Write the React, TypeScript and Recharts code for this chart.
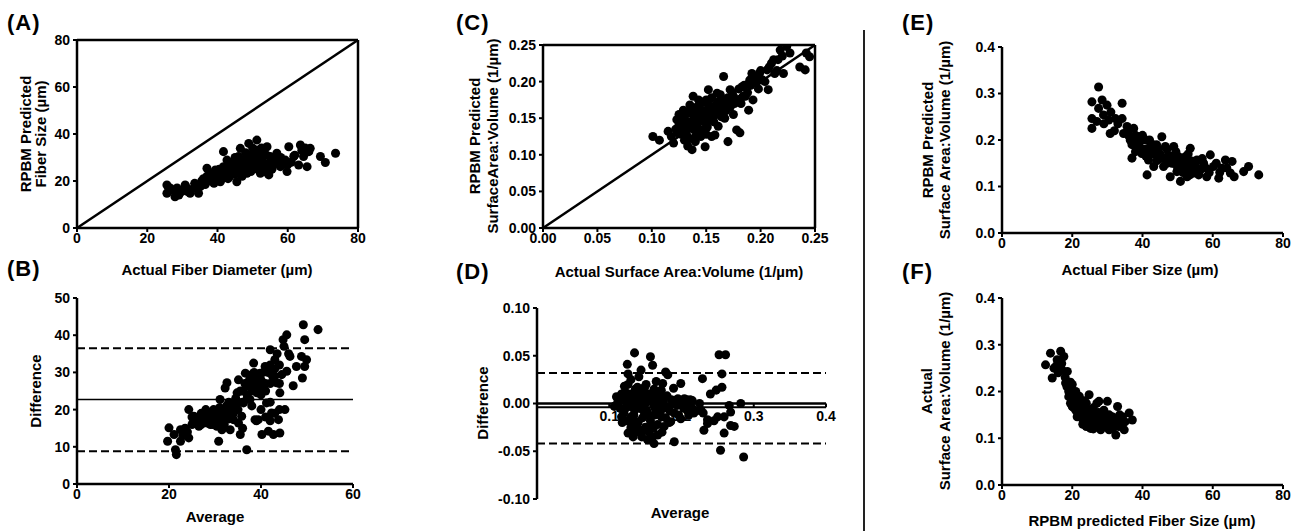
import { ReferenceLine, Scatter, ScatterChart, XAxis, YAxis, ZAxis } from "recharts";

const INK = "#000";
const FONT = "'Liberation Sans', Arial, Helvetica, sans-serif";

// (A) actual fiber diameter vs RPBM predicted fiber size, µm
const fiberSizeFit: [number, number][] = [
  [25.6, 18.3], [25.6, 14.8], [26.0, 15.5], [26.5, 17.0], [27.5, 16.2], [27.9, 13.3], [28.5, 17.0], [29.0, 14.0],
  [29.8, 15.5], [30.0, 16.0], [30.8, 18.3], [31.0, 17.5], [31.5, 15.5], [32.2, 14.8], [33.2, 16.9], [33.5, 19.0],
  [34.5, 18.0], [34.6, 14.8], [35.1, 17.6], [35.5, 20.0], [36.0, 19.7], [36.0, 21.0], [36.5, 18.5], [37.0, 25.4],
  [37.0, 22.0], [37.5, 20.4], [38.0, 20.0], [38.0, 22.0], [38.5, 23.0], [38.9, 21.8], [39.0, 19.0], [39.4, 24.7],
  [39.5, 21.0], [40.0, 22.5], [40.0, 24.0], [40.3, 23.3], [40.5, 25.0], [40.8, 19.7], [41.0, 20.5], [41.5, 23.0],
  [41.7, 32.5], [41.7, 26.1], [42.0, 21.5], [42.0, 25.0], [42.5, 24.0], [42.7, 28.9], [43.0, 26.0], [43.0, 21.0],
  [43.5, 22.0], [43.6, 23.3], [44.0, 25.0], [44.0, 27.0], [44.5, 28.0], [44.6, 24.7], [45.0, 23.0], [45.0, 30.0],
  [45.1, 27.5], [45.5, 19.7], [45.5, 26.0], [46.0, 30.4], [46.0, 24.0], [46.0, 26.0], [46.5, 33.9], [46.5, 28.0],
  [47.0, 22.0], [47.0, 24.0], [47.4, 26.1], [47.5, 29.0], [48.0, 25.0], [48.0, 29.0], [48.0, 32.0], [48.4, 23.3],
  [48.5, 27.0], [48.9, 36.0], [49.0, 31.0], [49.3, 30.4], [49.5, 24.0], [50.0, 29.0], [50.0, 27.0], [50.0, 34.0],
  [50.3, 26.1], [50.5, 32.0], [51.0, 27.0], [51.2, 37.4], [51.2, 33.2], [51.5, 25.0], [51.7, 28.9], [52.0, 30.0],
  [52.0, 28.0], [52.2, 23.3], [52.5, 34.0], [53.0, 28.0], [53.0, 32.0], [53.1, 26.1], [53.5, 24.0], [54.0, 31.0],
  [54.0, 26.0], [54.1, 34.6], [54.6, 22.6], [55.0, 30.4], [55.0, 28.0], [55.5, 25.0], [56.0, 27.5], [56.0, 30.0],
  [56.5, 29.0], [56.9, 31.8], [57.5, 29.0], [57.9, 26.1], [58.0, 30.0], [58.5, 27.0], [59.3, 28.9], [59.8, 24.0],
  [60.0, 27.0], [60.3, 34.6], [61.0, 28.0], [61.7, 30.4], [62.0, 31.0], [63.1, 26.8], [63.6, 35.3], [64.0, 33.0],
  [64.5, 30.4], [65.0, 34.0], [65.5, 26.1], [66.0, 32.5], [66.4, 33.9], [69.3, 30.4], [70.7, 27.9], [73.6, 31.8],
];

// (B) Bland-Altman for fiber size: average, difference
const fiberSizeAgreement: [number, number][] = [
  [20.0, 15.1], [19.7, 11.5], [21.4, 9.2], [21.6, 7.9], [21.1, 13.3], [22.5, 14.6], [22.5, 11.5], [23.0, 13.0],
  [23.5, 15.0], [24.0, 14.0], [24.3, 12.4], [24.3, 20.0], [25.0, 16.0], [25.0, 18.0], [25.4, 18.2], [26.1, 16.4],
  [26.5, 15.5], [26.8, 17.7], [27.0, 16.0], [27.0, 19.0], [27.5, 18.0], [27.6, 19.1], [28.0, 17.5], [28.0, 20.0],
  [28.3, 16.4], [28.5, 19.0], [28.5, 17.0], [29.0, 18.2], [29.0, 16.0], [29.5, 18.5], [29.5, 16.0], [29.7, 20.0],
  [30.0, 17.0], [30.0, 19.0], [30.1, 16.4], [30.4, 15.5], [30.5, 19.5], [30.8, 11.5], [31.0, 20.5], [31.0, 18.0],
  [31.1, 22.7], [31.5, 14.6], [31.5, 17.0], [31.9, 18.2], [32.0, 19.0], [32.0, 16.0], [32.2, 25.8], [32.5, 21.0],
  [32.6, 27.2], [33.0, 22.0], [33.0, 17.5], [33.0, 20.0], [33.3, 14.6], [33.5, 18.0], [33.7, 20.0], [34.0, 17.3],
  [34.0, 21.0], [34.0, 19.0], [34.5, 23.0], [34.8, 24.5], [35.0, 20.0], [35.0, 22.0], [35.1, 28.0], [35.1, 16.4],
  [35.5, 13.3], [35.5, 25.0], [35.8, 18.2], [36.0, 22.0], [36.0, 15.0], [36.0, 25.0], [36.2, 21.8], [36.5, 27.0],
  [36.6, 29.8], [36.9, 9.2], [37.0, 24.0], [37.0, 23.0], [37.3, 26.3], [37.5, 28.0], [37.6, 22.7], [38.0, 29.4],
  [38.0, 25.0], [38.0, 21.0], [38.4, 32.5], [38.5, 27.0], [38.5, 30.0], [38.7, 17.3], [39.0, 29.0], [39.0, 17.0],
  [39.0, 27.0], [39.1, 24.5], [39.4, 17.3], [39.5, 26.0], [39.8, 29.8], [40.0, 28.0], [40.0, 24.0], [40.0, 20.0],
  [40.2, 13.3], [40.5, 26.3], [40.5, 30.0], [40.9, 31.6], [41.0, 27.0], [41.0, 18.0], [41.0, 25.0], [41.2, 21.8],
  [41.5, 30.0], [41.6, 14.2], [42.0, 36.1], [42.0, 32.0], [42.0, 17.0], [42.0, 27.0], [42.0, 22.0], [42.3, 19.1],
  [42.5, 29.0], [42.7, 13.3], [43.0, 33.4], [43.0, 31.0], [43.0, 19.0], [43.0, 29.0], [43.4, 27.2], [43.5, 35.0],
  [43.8, 17.3], [44.0, 32.0], [44.0, 20.0], [44.0, 27.0], [44.1, 24.5], [44.1, 13.7], [44.5, 29.4], [44.8, 38.8],
  [45.0, 37.0], [45.2, 20.0], [45.6, 40.1], [45.6, 30.3], [46.0, 35.0], [46.3, 34.3], [47.0, 26.4], [47.7, 31.6],
  [48.8, 34.3], [49.0, 28.5], [49.2, 42.8], [49.5, 38.8], [49.5, 31.6], [49.9, 33.4], [52.4, 41.5],
];
const FIBER_BIAS = 22.7;
const FIBER_UPPER = 36.5;
const FIBER_LOWER = 8.8;

// (C) actual vs RPBM predicted surface area:volume, 1/µm
const savFit: [number, number][] = [
  [0.101, 0.125], [0.107, 0.12], [0.115, 0.132], [0.118, 0.125], [0.12, 0.116], [0.122, 0.135], [0.123, 0.148],
  [0.124, 0.13], [0.125, 0.142], [0.125, 0.155], [0.127, 0.128], [0.128, 0.138], [0.128, 0.148], [0.129, 0.161],
  [0.13, 0.12], [0.13, 0.15], [0.131, 0.132], [0.132, 0.139], [0.132, 0.127], [0.133, 0.112], [0.134, 0.145],
  [0.134, 0.122], [0.135, 0.157], [0.135, 0.168], [0.136, 0.16], [0.137, 0.107], [0.137, 0.142], [0.138, 0.18],
  [0.138, 0.135], [0.139, 0.15], [0.14, 0.125], [0.14, 0.118], [0.14, 0.158], [0.141, 0.165], [0.142, 0.138],
  [0.142, 0.128], [0.143, 0.148], [0.143, 0.175], [0.144, 0.17], [0.144, 0.155], [0.145, 0.125], [0.145, 0.162],
  [0.146, 0.172], [0.146, 0.13], [0.147, 0.134], [0.147, 0.152], [0.148, 0.145], [0.149, 0.111], [0.149, 0.16],
  [0.15, 0.175], [0.15, 0.145], [0.15, 0.128], [0.151, 0.138], [0.152, 0.189], [0.152, 0.168], [0.153, 0.152],
  [0.153, 0.165], [0.154, 0.155], [0.155, 0.125], [0.155, 0.178], [0.156, 0.166], [0.156, 0.148], [0.157, 0.145],
  [0.158, 0.127], [0.158, 0.165], [0.159, 0.155], [0.16, 0.184], [0.16, 0.17], [0.161, 0.139], [0.161, 0.172],
  [0.162, 0.158], [0.163, 0.182], [0.164, 0.152], [0.164, 0.165], [0.165, 0.168], [0.166, 0.207], [0.167, 0.175],
  [0.167, 0.15], [0.168, 0.16], [0.17, 0.118], [0.17, 0.178], [0.171, 0.17], [0.172, 0.189], [0.172, 0.165],
  [0.174, 0.185], [0.175, 0.155], [0.175, 0.18], [0.176, 0.17], [0.177, 0.172], [0.178, 0.134], [0.179, 0.175],
  [0.18, 0.19], [0.181, 0.13], [0.182, 0.17], [0.183, 0.193], [0.184, 0.18], [0.185, 0.195], [0.186, 0.18],
  [0.188, 0.185], [0.189, 0.161], [0.19, 0.202], [0.191, 0.195], [0.192, 0.211], [0.193, 0.175], [0.195, 0.205],
  [0.196, 0.198], [0.198, 0.19], [0.199, 0.211], [0.2, 0.215], [0.202, 0.202], [0.204, 0.2], [0.206, 0.216],
  [0.207, 0.189], [0.208, 0.22], [0.21, 0.225], [0.212, 0.23], [0.213, 0.211], [0.215, 0.215], [0.216, 0.23],
  [0.218, 0.243], [0.22, 0.235], [0.221, 0.211], [0.224, 0.248], [0.227, 0.239], [0.236, 0.22], [0.241, 0.216],
  [0.242, 0.239], [0.245, 0.234],
];

// (D) Bland-Altman for surface area:volume: average, difference
const savAgreement: [number, number][] = [
  [0.107, -0.003], [0.11, 0.007], [0.112, 0.002], [0.115, -0.005], [0.117, 0.01], [0.117, -0.014], [0.118, 0.005],
  [0.118, -0.02], [0.12, -0.01], [0.121, -0.007], [0.121, 0.018], [0.122, 0.012], [0.124, -0.018], [0.124, 0.0],
  [0.125, 0.041], [0.126, 0.031], [0.126, 0.02], [0.126, 0.003], [0.126, -0.031], [0.127, 0.01], [0.128, -0.003],
  [0.129, -0.018], [0.13, 0.025], [0.13, -0.025], [0.13, -0.014], [0.131, 0.003], [0.132, 0.008], [0.133, -0.035],
  [0.134, -0.012], [0.135, 0.053], [0.135, 0.01], [0.135, -0.007], [0.135, -0.024], [0.136, 0.015], [0.136, -0.003],
  [0.137, -0.03], [0.138, 0.002], [0.139, 0.017], [0.139, -0.019], [0.14, -0.02], [0.14, 0.006], [0.141, 0.028],
  [0.142, -0.005], [0.143, -0.028], [0.144, 0.035], [0.144, 0.012], [0.144, 0.0], [0.145, -0.035], [0.146, -0.015],
  [0.147, -0.007], [0.148, 0.005], [0.149, 0.017], [0.149, -0.028], [0.15, -0.025], [0.15, 0.0], [0.151, 0.02],
  [0.152, -0.008], [0.153, -0.01], [0.153, -0.038], [0.153, 0.008], [0.154, 0.01], [0.155, -0.03], [0.156, -0.014],
  [0.157, 0.049], [0.157, -0.018], [0.158, 0.002], [0.158, -0.024], [0.159, 0.01], [0.16, 0.04], [0.16, -0.035],
  [0.161, -0.026], [0.162, 0.015], [0.162, 0.007], [0.162, -0.003], [0.162, -0.042], [0.163, -0.012], [0.164, -0.006],
  [0.165, 0.023], [0.165, 0.005], [0.167, -0.022], [0.167, -0.033], [0.168, 0.006], [0.169, -0.002], [0.17, 0.01],
  [0.171, -0.008], [0.172, 0.014], [0.172, -0.014], [0.173, -0.03], [0.174, 0.021], [0.175, 0.002], [0.176, -0.024],
  [0.177, -0.003], [0.178, 0.033], [0.178, -0.015], [0.18, 0.008], [0.181, 0.03], [0.181, -0.005], [0.183, -0.02],
  [0.184, -0.008], [0.185, -0.019], [0.186, 0.004], [0.188, 0.0], [0.189, 0.016], [0.19, 0.003], [0.19, -0.01],
  [0.19, -0.04], [0.193, 0.002], [0.194, -0.002], [0.195, 0.005], [0.196, -0.012], [0.199, 0.021], [0.199, -0.016],
  [0.2, 0.0], [0.203, -0.005], [0.204, 0.005], [0.205, -0.003], [0.207, 0.004], [0.208, -0.007], [0.21, -0.012],
  [0.212, 0.004], [0.214, -0.004], [0.215, 0.003], [0.217, -0.01], [0.22, -0.008], [0.225, 0.0], [0.227, -0.007],
  [0.229, 0.026], [0.23, -0.01], [0.231, -0.028], [0.236, -0.017], [0.236, -0.021], [0.24, 0.01], [0.245, -0.018],
  [0.248, 0.014], [0.25, -0.014], [0.252, 0.051], [0.254, -0.049], [0.256, 0.031], [0.256, 0.017], [0.259, -0.014],
  [0.259, -0.031], [0.261, 0.051], [0.266, -0.002], [0.268, -0.009], [0.268, -0.023], [0.273, -0.024], [0.282, 0.0],
  [0.286, -0.056],
];
const SAV_BIAS = -0.004;
const SAV_UPPER = 0.032;
const SAV_LOWER = -0.042;

// (E) actual fiber size (µm) vs RPBM predicted surface area:volume
const sizeVsPredictedSav: [number, number][] = [
  [25.6, 0.282], [25.6, 0.246], [25.6, 0.225], [27.0, 0.24], [27.5, 0.314], [27.5, 0.268], [28.5, 0.286],
  [28.9, 0.254], [29.0, 0.235], [29.9, 0.275], [30.4, 0.243], [30.8, 0.214], [31.0, 0.26], [32.0, 0.22],
  [32.3, 0.246], [33.0, 0.235], [34.2, 0.279], [34.2, 0.246], [34.6, 0.214], [35.6, 0.229], [36.0, 0.21],
  [36.0, 0.22], [36.5, 0.2], [37.0, 0.161], [37.0, 0.19], [37.5, 0.225], [38.0, 0.2], [38.0, 0.175],
  [38.0, 0.21], [38.4, 0.186], [38.9, 0.207], [39.0, 0.195], [39.0, 0.19], [39.8, 0.171], [40.0, 0.18],
  [40.0, 0.21], [40.8, 0.2], [41.0, 0.165], [41.0, 0.18], [41.3, 0.125], [41.7, 0.157], [42.0, 0.2],
  [42.2, 0.186], [42.5, 0.17], [43.0, 0.19], [43.0, 0.175], [43.2, 0.143], [43.6, 0.171], [44.0, 0.155],
  [44.0, 0.19], [44.5, 0.18], [44.6, 0.164], [45.0, 0.17], [45.0, 0.16], [45.5, 0.207], [46.0, 0.143],
  [46.0, 0.16], [46.5, 0.186], [47.0, 0.164], [47.0, 0.18], [47.0, 0.15], [47.9, 0.121], [48.0, 0.165],
  [48.4, 0.15], [48.9, 0.186], [49.0, 0.15], [49.0, 0.16], [49.5, 0.175], [49.8, 0.132], [50.0, 0.14],
  [50.3, 0.164], [50.8, 0.111], [51.0, 0.16], [51.0, 0.15], [51.2, 0.143], [51.5, 0.13], [52.0, 0.15],
  [52.0, 0.135], [52.2, 0.164], [52.7, 0.121], [53.0, 0.17], [53.0, 0.14], [53.1, 0.143], [53.5, 0.125],
  [53.6, 0.182], [54.0, 0.155], [54.6, 0.129], [55.0, 0.14], [55.0, 0.15], [55.5, 0.157], [56.0, 0.125],
  [56.0, 0.13], [56.5, 0.136], [57.0, 0.16], [57.0, 0.14], [57.4, 0.15], [58.0, 0.14], [58.3, 0.121],
  [59.0, 0.13], [59.3, 0.168], [60.2, 0.143], [61.0, 0.15], [61.7, 0.118], [62.0, 0.13], [62.6, 0.139],
  [63.6, 0.157], [64.0, 0.14], [65.0, 0.129], [65.5, 0.154], [66.1, 0.121], [68.8, 0.132], [70.2, 0.143],
  [73.1, 0.125],
];

// (F) RPBM predicted fiber size (µm) vs actual surface area:volume
const predictedSizeVsSav: [number, number][] = [
  [12.4, 0.257], [13.8, 0.282], [14.3, 0.229], [14.8, 0.25], [15.5, 0.255], [15.7, 0.268], [16.0, 0.24],
  [16.7, 0.286], [17.0, 0.26], [17.1, 0.246], [17.6, 0.275], [18.0, 0.23], [18.1, 0.218], [18.5, 0.21],
  [18.6, 0.243], [19.0, 0.189], [19.0, 0.2], [19.5, 0.211], [19.5, 0.22], [19.5, 0.175], [20.0, 0.168],
  [20.0, 0.19], [20.0, 0.215], [20.5, 0.18], [20.5, 0.165], [21.0, 0.196], [21.0, 0.16], [21.0, 0.2],
  [21.4, 0.146], [21.5, 0.185], [21.5, 0.155], [22.0, 0.155], [22.0, 0.17], [22.0, 0.19], [22.4, 0.175],
  [22.5, 0.15], [22.9, 0.143], [23.0, 0.16], [23.0, 0.13], [23.0, 0.14], [23.5, 0.145], [23.5, 0.18],
  [23.8, 0.132], [24.0, 0.175], [24.0, 0.125], [24.0, 0.15], [24.3, 0.161], [24.5, 0.14], [24.8, 0.193],
  [25.0, 0.155], [25.0, 0.13], [25.2, 0.121], [25.5, 0.135], [25.5, 0.145], [26.0, 0.165], [26.0, 0.12],
  [26.2, 0.154], [26.5, 0.145], [26.5, 0.135], [26.7, 0.129], [27.0, 0.13], [27.0, 0.175], [27.5, 0.155],
  [27.5, 0.128], [27.6, 0.179], [28.0, 0.14], [28.1, 0.118], [28.5, 0.125], [28.5, 0.135], [29.0, 0.146],
  [29.0, 0.16], [29.5, 0.135], [29.5, 0.145], [30.0, 0.179], [30.0, 0.125], [30.5, 0.118], [30.5, 0.15],
  [30.5, 0.13], [31.0, 0.14], [31.4, 0.146], [31.5, 0.12], [31.5, 0.135], [32.0, 0.13], [32.4, 0.107],
  [32.9, 0.168], [33.0, 0.14], [33.3, 0.125], [33.5, 0.15], [34.0, 0.13], [34.3, 0.146], [34.8, 0.118],
  [35.0, 0.135], [36.2, 0.154], [37.1, 0.139],
];

const FIBER_TICKS = [0, 20, 40, 60, 80];
const DIFF_TICKS = [0, 10, 20, 30, 40, 50];
const AVG_TICKS = [0, 20, 40, 60];
const SAV_TICKS = [0, 0.05, 0.1, 0.15, 0.2, 0.25];
const SAV_DIFF_TICKS = [-0.1, -0.05, 0, 0.05, 0.1];
const SAV_AVG_TICKS = [0.1, 0.2, 0.3, 0.4];
const SAV_WIDE_TICKS = [0, 0.1, 0.2, 0.3, 0.4];

const toPoints = (rows: [number, number][]) => rows.map(([x, y]) => ({ x, y }));

const tickText = { fill: INK, fontSize: 14, fontWeight: 700, fontFamily: FONT };
const axisStroke = { stroke: INK, strokeWidth: 2.5 };
const tickStroke = { stroke: INK, strokeWidth: 2 };
const dashed = { stroke: INK, strokeWidth: 2, strokeDasharray: "8 4" };
const TITLE_SIZE = 15;

const GUTTER = 60; // room for the y tick labels, left of the plot box
const PAD = 10;
const RIGHT = 24; // room for the last x tick label
const XAXIS_H = 30;

interface Box {
  left: number;
  top: number;
  w: number;
  h: number;
}

function Plot({ box, hideX, children }: { box: Box; hideX?: boolean; children: React.ReactNode }) {
  return (
    <div style={{ position: "absolute", left: box.left - GUTTER, top: box.top - PAD }}>
      <ScatterChart
        width={box.w + GUTTER + RIGHT}
        height={box.h + PAD + XAXIS_H}
        margin={{ top: PAD, right: RIGHT, bottom: hideX ? XAXIS_H : 0, left: 0 }}
      >
        <ZAxis range={[72, 72]} />
        {children}
      </ScatterChart>
    </div>
  );
}

function xAxis(domain: [number, number], ticks: number[], fmt?: (v: number) => string) {
  return (
    <XAxis
      type="number"
      dataKey="x"
      domain={domain}
      ticks={ticks}
      interval={0}
      allowDataOverflow
      height={XAXIS_H}
      tickSize={4}
      tickMargin={1}
      tick={tickText}
      axisLine={axisStroke}
      tickLine={tickStroke}
      tickFormatter={fmt}
    />
  );
}

function yAxis(domain: [number, number], ticks: number[], fmt?: (v: number) => string) {
  return (
    <YAxis
      type="number"
      dataKey="y"
      domain={domain}
      ticks={ticks}
      interval={0}
      allowDataOverflow
      width={GUTTER}
      tickSize={4}
      tickMargin={3}
      tick={tickText}
      axisLine={axisStroke}
      tickLine={tickStroke}
      tickFormatter={fmt}
    />
  );
}

// closes the box on top and right, ticks pointing inward
function frame(xDomain: [number, number], xTicks: number[], yDomain: [number, number], yTicks: number[]) {
  return [
    <XAxis key="top" xAxisId="top" orientation="top" mirror type="number" domain={xDomain} ticks={xTicks}
      tick={false} tickSize={5} axisLine={axisStroke} tickLine={tickStroke} />,
    <YAxis key="right" yAxisId="right" orientation="right" mirror type="number" domain={yDomain} ticks={yTicks}
      tick={false} tickSize={5} axisLine={axisStroke} tickLine={tickStroke} />,
  ];
}

function Tag({ left, top, text }: { left: number; top: number; text: string }) {
  return (
    <div style={{ position: "absolute", left, top, fontSize: 22, fontWeight: 700, lineHeight: "22px", letterSpacing: 1 }}>
      {text}
    </div>
  );
}

function XTitle({ cx, cy, text }: { cx: number; cy: number; text: string }) {
  return (
    <div style={{ position: "absolute", left: cx - 150, top: cy - 8, width: 300, lineHeight: "16px", textAlign: "center", fontSize: TITLE_SIZE, fontWeight: 700 }}>
      {text}
    </div>
  );
}

function YTitle({ cx, cy, lines, gap = 16 }: { cx: number; cy: number; lines: string[]; gap?: number }) {
  const w = 260;
  const h = lines.length * gap;
  return (
    <div
      style={{
        position: "absolute",
        left: cx - w / 2,
        top: cy - h / 2,
        width: w,
        height: h,
        lineHeight: `${gap}px`,
        textAlign: "center",
        fontSize: TITLE_SIZE,
        fontWeight: 700,
        transform: "rotate(-90deg)",
      }}
    >
      {lines.map((l) => (
        <div key={l}>{l}</div>
      ))}
    </div>
  );
}

const f2 = (v: number) => v.toFixed(2);
const f1 = (v: number) => v.toFixed(1);

export default function App() {
  return (
    <div
      style={{
        position: "absolute",
        left: 0,
        top: 0,
        width: 1296,
        height: 531,
        background: "#fff",
        color: INK,
        fontFamily: FONT,
        overflow: "hidden",
      }}
    >
      {/* (A) */}
      <Plot box={{ left: 77, top: 40, w: 281, h: 188 }}>
        {xAxis([0, 80], FIBER_TICKS)}
        {yAxis([0, 80], FIBER_TICKS)}
        {frame([0, 80], FIBER_TICKS, [0, 80], FIBER_TICKS)}
        <ReferenceLine segment={[{ x: 0, y: 0 }, { x: 80, y: 80 }]} stroke={INK} strokeWidth={2.5} />
        <Scatter data={toPoints(fiberSizeFit)} fill={INK} isAnimationActive={false} />
      </Plot>

      {/* (B) */}
      <Plot box={{ left: 77, top: 298, w: 276, h: 186 }}>
        {xAxis([0, 60], AVG_TICKS)}
        {yAxis([0, 50], DIFF_TICKS)}
        <ReferenceLine y={FIBER_UPPER} {...dashed} />
        <ReferenceLine y={FIBER_BIAS} stroke={INK} strokeWidth={1.5} />
        <ReferenceLine y={FIBER_LOWER} {...dashed} />
        <Scatter data={toPoints(fiberSizeAgreement)} fill={INK} isAnimationActive={false} />
      </Plot>

      {/* (C) */}
      <Plot box={{ left: 543, top: 45, w: 272, h: 183 }}>
        {xAxis([0, 0.25], SAV_TICKS, f2)}
        {yAxis([0, 0.25], SAV_TICKS, f2)}
        {frame([0, 0.25], SAV_TICKS, [0, 0.25], SAV_TICKS)}
        <ReferenceLine segment={[{ x: 0, y: 0 }, { x: 0.25, y: 0.25 }]} stroke={INK} strokeWidth={2.5} />
        <Scatter data={toPoints(savFit)} fill={INK} isAnimationActive={false} />
      </Plot>

      {/* (D) the x axis crosses at zero, so it is drawn with reference lines */}
      <Plot box={{ left: 537, top: 308, w: 289, h: 191 }} hideX>
        <XAxis type="number" dataKey="x" domain={[0, 0.4]} allowDataOverflow hide />
        {yAxis([-0.1, 0.1], SAV_DIFF_TICKS, f2)}
        <ReferenceLine y={SAV_UPPER} {...dashed} />
        <ReferenceLine y={SAV_LOWER} {...dashed} />
        <ReferenceLine y={0} stroke={INK} strokeWidth={2.5} />
        <ReferenceLine y={SAV_BIAS} stroke={INK} strokeWidth={2} />
        {SAV_AVG_TICKS.map((t) => (
          <ReferenceLine
            key={t}
            segment={[{ x: t, y: 0 }, { x: t, y: SAV_BIAS }]}
            stroke={INK}
            strokeWidth={2}
            label={{ value: t.toFixed(1), position: "bottom", offset: 4, fill: INK, fontSize: 14, fontWeight: 700, fontFamily: FONT }}
          />
        ))}
        <Scatter data={toPoints(savAgreement)} fill={INK} isAnimationActive={false} />
      </Plot>

      {/* (E) */}
      <Plot box={{ left: 1002, top: 47, w: 281, h: 186 }}>
        {xAxis([0, 80], FIBER_TICKS)}
        {yAxis([0, 0.4], SAV_WIDE_TICKS, f1)}
        <Scatter data={toPoints(sizeVsPredictedSav)} fill={INK} isAnimationActive={false} />
      </Plot>

      {/* (F) */}
      <Plot box={{ left: 1002, top: 298, w: 281, h: 187 }}>
        {xAxis([0, 80], FIBER_TICKS)}
        {yAxis([0, 0.4], SAV_WIDE_TICKS, f1)}
        <Scatter data={toPoints(predictedSizeVsSav)} fill={INK} isAnimationActive={false} />
      </Plot>

      <div style={{ position: "absolute", left: 863, top: 30, width: 2, height: 501, background: "#222" }} />

      <Tag left={7} top={12} text="(A)" />
      <Tag left={7} top={258} text="(B)" />
      <Tag left={456} top={12} text="(C)" />
      <Tag left={456} top={261} text="(D)" />
      <Tag left={902} top={12} text="(E)" />
      <Tag left={902} top={261} text="(F)" />

      <XTitle cx={217} cy={270} text="Actual Fiber Diameter (µm)" />
      <YTitle cx={33} cy={134} lines={["RPBM Predicted", "Fiber Size (µm)"]} gap={15} />
      <XTitle cx={215} cy={517} text="Average" />
      <YTitle cx={36} cy={391} lines={["Difference"]} />
      <XTitle cx={679} cy={272} text="Actual Surface Area:Volume (1/µm)" />
      <YTitle cx={484} cy={136} lines={["RPBM Predicted", "SurfaceArea:Volume (1/µm)"]} gap={18} />
      <XTitle cx={680} cy={513} text="Average" />
      <YTitle cx={483} cy={403} lines={["Difference"]} />
      <XTitle cx={1140} cy={270} text="Actual Fiber Size (µm)" />
      <YTitle cx={936} cy={140} lines={["RPBM Predicted", "Surface Area:Volume (1/µm)"]} gap={17} />
      <XTitle cx={1142} cy={521} text="RPBM predicted Fiber Size (µm)" />
      <YTitle cx={936} cy={391} lines={["Actual", "Surface Area:Volume (1/µm)"]} gap={18} />
    </div>
  );
}
